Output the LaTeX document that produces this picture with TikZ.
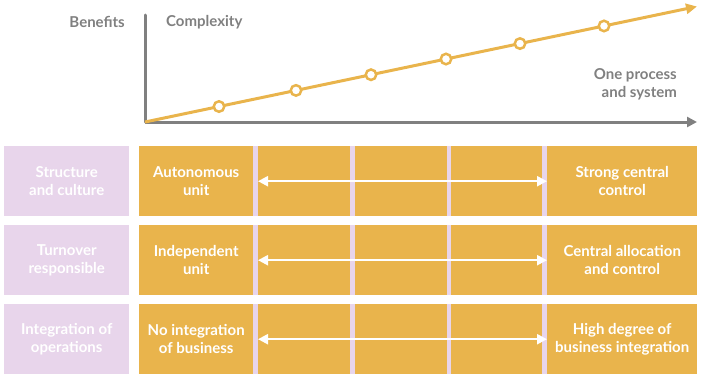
\documentclass[tikz,border=0pt]{standalone}
\usepackage{fontspec}
\setmainfont{Lato}
\usetikzlibrary{arrows.meta}
\definecolor{gold}{HTML}{E9B44C}
\definecolor{lilac}{HTML}{E8D5EB}
\definecolor{axisgray}{HTML}{808080}
\tikzset{
  rowlabel/.style={fill=lilac, draw=none, minimum width=125pt, minimum height=70pt, inner sep=0pt, text=white, align=center, font=\bfseries\fontsize{15}{18}\selectfont},
  cell/.style={fill=gold, draw=none, inner sep=0pt, text=white, align=center, font=\bfseries\fontsize{15}{18}\selectfont},
  headtext/.style={text=axisgray, font=\bfseries\fontsize{15}{18}\selectfont, inner sep=0pt},
  dot/.style={circle, draw=gold, fill=white, line width=2.5pt, minimum size=10.5pt, inner sep=0pt},
  whitearrow/.style={draw=white, line width=2.2pt, {Triangle[length=10pt,width=10pt]}-{Triangle[length=10pt,width=10pt]}},
}
\begin{document}
\begin{tikzpicture}[x=1pt,y=-1pt]
\useasboundingbox (0,0) rectangle (701,380);
% axes
\coordinate (o) at (145,122);
\coordinate (ytop) at (145,15);
\coordinate (xend) at (697,122);
\draw[axisgray, line width=3pt, line cap=round] (ytop) -- (o);
\draw[axisgray, line width=3pt, -{Triangle[length=10pt,width=10pt]}] (o) -- (xend);
% growth line
\coordinate (lend) at (697,6.5);
\draw[gold, line width=3pt, -{Triangle[length=11pt,width=10pt]}] (o) -- (lend);
\foreach \i/\x in {1/219,2/296,3/371,4/446,5/520,6/604}{
  \node[dot] (d\i) at (\x,{122-(\x-145)*0.2092}) {};
}
\node[headtext, anchor=east] (benefits) at (125,22) {Benefits};
\node[headtext, anchor=west] (complexity) at (166,22) {Complexity};
\node[headtext, anchor=east, align=right] (oneproc) at (677,84) {One process\\and system};
% rows
\foreach \r/\top/\la/\lb/\lc in {
  1/146/{Structure\\and culture}/{Autonomous\\unit}/{Strong central\\control},
  2/225/{Turnover\\responsible}/{Independent\\unit}/{Central allocation\\and control},
  3/304/{Integration of\\operations}/{No integration\\of business}/{High degree of\\business integration}}{
  \fill[lilac] (139,\top) rectangle (697,\top+70);
  \node[rowlabel, anchor=north west] (lab\r) at (4,\top) {\la};
  \node[cell, anchor=north west, minimum width=114pt, minimum height=70pt] (left\r) at (139,\top) {\lb};
  \node[cell, anchor=north west, minimum width=92pt, minimum height=70pt] (m1\r) at (258,\top) {};
  \node[cell, anchor=north west, minimum width=92pt, minimum height=70pt] (m2\r) at (354.5,\top) {};
  \node[cell, anchor=north west, minimum width=91pt, minimum height=70pt] (m3\r) at (451,\top) {};
  \node[cell, anchor=north west, minimum width=150pt, minimum height=70pt] (right\r) at (547,\top) {\lc};
  \draw[whitearrow] (m1\r.west) -- (right\r.west);
}
\end{tikzpicture}
\end{document}
